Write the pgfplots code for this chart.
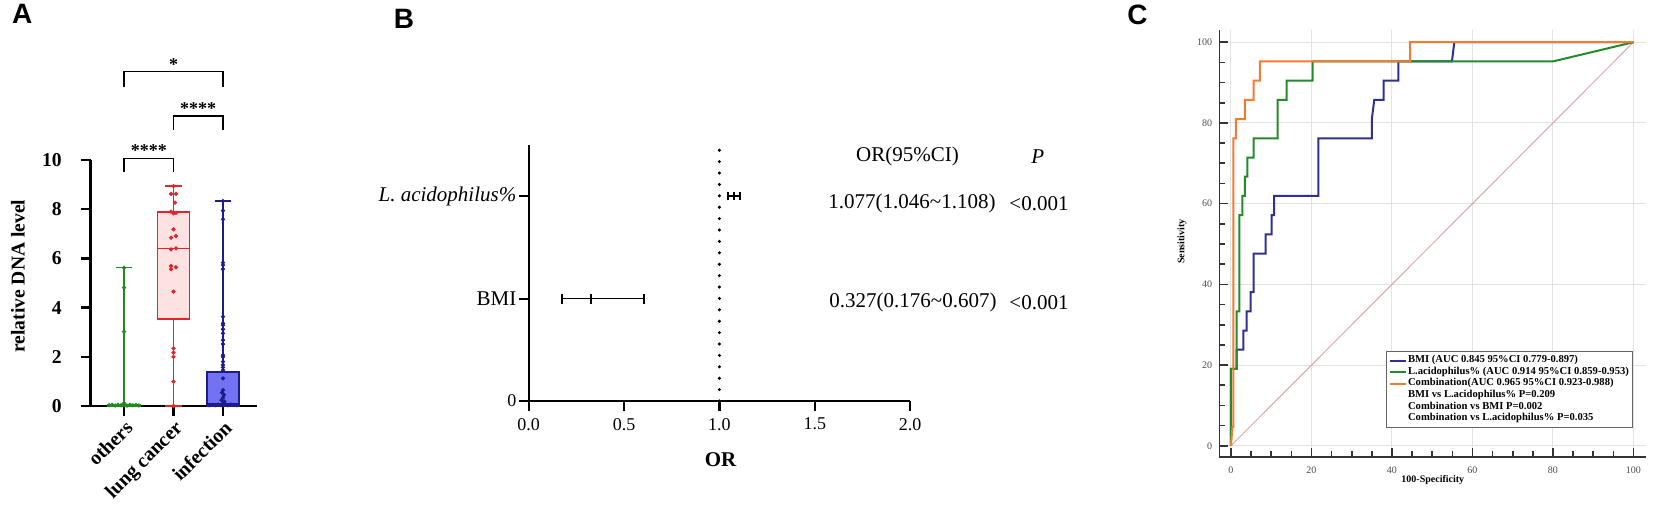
\documentclass[border=0pt]{standalone}
\usepackage{fontspec}
\setmainfont{Liberation Serif}
\newfontfamily\panelfont{Liberation Sans}
\usepackage{pgfplots}
\pgfplotsset{compat=1.18}
\usepgfplotslibrary{statistics}
\definecolor{grnA}{HTML}{1E8C1E}
\definecolor{redA}{HTML}{E8222A}
\definecolor{pinkA}{HTML}{FDE2E2}
\definecolor{navyA}{HTML}{1C1C8A}
\definecolor{blueA}{HTML}{7272F2}
\definecolor{bmiCol}{HTML}{2E3192}
\definecolor{laCol}{HTML}{238B2A}
\definecolor{comCol}{HTML}{F47B30}
\definecolor{diagCol}{HTML}{D9A8A8}

\begin{document}
\begin{tikzpicture}
\useasboundingbox (0pt,0pt) rectangle (827pt,-257.5pt);

% panel letters
\node[font=\panelfont\bfseries\fontsize{14}{14}\selectfont] at (11.15pt,-7pt) {A};
\node[font=\panelfont\bfseries\fontsize{14}{14}\selectfont] at (202pt,-9.5pt) {B};
\node[font=\panelfont\bfseries\fontsize{14}{14}\selectfont] at (568.7pt,-7.5pt) {C};

% ---------------- A: box plots ----------------
\begin{axis}[
  at={(45.35pt,-203pt)}, anchor=south west,
  scale only axis, width=83.15pt, height=123pt,
  xmin=0.327, xmax=3.687, ymin=0, ymax=10,
  boxplot/draw direction=y,
  axis x line*=bottom, axis y line*=left,
  axis line style={line width=1.2pt},
  tick style={line width=1.2pt, black},
  tick align=outside, major tick length=5pt,
  xtick={1,2,3}, xticklabels={others, lung cancer, infection},
  ytick={0,2,...,10},
  /pgf/number format/assume math mode=true,
  yticklabel style={font=\bfseries\fontsize{9.8}{10}\selectfont, xshift=-6pt},
  xticklabel style={font=\bfseries\fontsize{10}{10}\selectfont, rotate=45, anchor=north east, inner sep=1pt},
  ylabel={relative DNA level},
  ylabel style={font=\bfseries\fontsize{9.8}{10}\selectfont, at={(axis description cs:-0.437,0.528)}, anchor=center},
  clip=false,
]
\addplot[boxplot prepared={draw position=1, lower whisker=0, lower quartile=0, median=0.03, upper quartile=0.06, upper whisker=5.62, box extend=0.653, whisker extend=0.34}, draw=grnA, fill=grnA!30, line width=0.7pt] coordinates {};
\addplot[boxplot prepared={draw position=2, lower whisker=0, lower quartile=3.54, median=6.41, upper quartile=7.89, upper whisker=8.94, box extend=0.653, whisker extend=0.34}, draw=redA, fill=pinkA, line width=0.7pt] coordinates {};
\addplot[boxplot prepared={draw position=3, lower whisker=0, lower quartile=0, median=0.1, upper quartile=1.38, upper whisker=8.33, box extend=0.653, whisker extend=0.34}, draw=navyA, fill=blueA, line width=0.7pt] coordinates {};

\addplot[only marks, mark=*, mark size=0.85pt, grnA] coordinates {
(0.70,0.03)(0.76,0.05)(0.82,0.02)(0.88,0.05)(0.94,0.03)(1.00,0.06)(1.06,0.02)
(1.12,0.05)(1.18,0.03)(1.24,0.04)(1.30,0.02)(1,0.12)(1,3.02)(1,4.81)(1,5.62)};
\addplot[only marks, mark=*, mark size=0.85pt, redA] coordinates {
(2,8.94)(1.95,8.62)(2.05,8.62)(2.03,8.27)(1.95,7.9)(2.05,7.85)(2,7.83)(2,7.18)
(2.05,6.91)(1.95,6.84)(2.05,6.41)(1.95,6.37)(1.95,5.69)(2.05,5.64)(1.95,5.56)
(2,4.65)(2,2.34)(2,2.17)(2,2.0)(2,0.99)(2,0)};
\addplot[only marks, mark=*, mark size=0.85pt, navyA] coordinates {
(3,8.33)(3,7.94)(3,7.59)(3,5.83)(3,5.73)(3,5.56)(3,3.63)(3,3.36)(3,3.29)(3,3.12)
(3,2.95)(3,2.68)(3,2.52)(3,2.07)(3,2.0)(3,1.8)(3,1.67)(3,1.57)(3,1.46)(3,1.12)
(3,0.65)(2.98,0.54)(3.02,0.45)(3,0.34)(2.97,0.24)(3.03,0.18)(3,0.11)
(2.72,0.03)(2.78,0.05)(2.84,0.03)(2.9,0.06)(2.96,0.04)(3.04,0.05)(3.1,0.03)
(3.16,0.06)(3.22,0.04)(3.28,0.03)};

% significance brackets
\addplot[black, line width=0.7pt] coordinates {(1,9.52)(1,10.07)(2,10.07)(2,9.52)};
\addplot[black, line width=0.7pt] coordinates {(2,11.22)(2,11.79)(3,11.79)(3,11.22)};
\addplot[black, line width=0.7pt] coordinates {(1,12.96)(1,13.59)(3,13.59)(3,12.96)};
\node[font=\bfseries\fontsize{9}{9}\selectfont, anchor=base, inner sep=0pt, yshift=0.8pt] at (axis cs:1.5,10.07) {****};
\node[font=\bfseries\fontsize{9}{9}\selectfont, anchor=base, inner sep=0pt, yshift=0.8pt] at (axis cs:2.5,11.79) {****};
\node[font=\bfseries\fontsize{9}{9}\selectfont, anchor=base, inner sep=0pt, yshift=0.8pt] at (axis cs:2,13.59) {*};
\end{axis}

% ---------------- B: forest plot ----------------
\begin{axis}[
  at={(264.35pt,-200.5pt)}, anchor=south west,
  scale only axis, width=190.7pt, height=127.9pt,
  xmin=0, xmax=2, ymin=0, ymax=2.5,
  axis x line*=bottom, axis y line*=left,
  axis line style={line width=1.1pt},
  tick style={line width=1.1pt, black},
  tick align=outside, major tick length=5pt,
  xtick={0,0.5,1,1.5,2}, xticklabels={0.0,0.5,1.0,1.5,2.0},
  ytick={0,1,2}, yticklabels={{\fontsize{9}{9}\selectfont 0}, BMI, \textit{L. acidophilus\%}},
  xticklabel style={font=\fontsize{9}{9}\selectfont},
  yticklabel style={font=\fontsize{10.5}{11}\selectfont, inner sep=1pt},
  xlabel={OR},
  xlabel style={font=\bfseries\fontsize{10.5}{11}\selectfont, at={(axis description cs:0.503,-0.231)}, anchor=center},
  clip=false,
]
\addplot[black, line width=1.7pt, line cap=round, dash pattern=on 0pt off 5.7pt] coordinates {(1,0)(1,2.48)};
\addplot[black, only marks, mark=|, mark size=2.5pt, mark options={line width=1pt},
  error bars/.cd, x dir=both, x explicit, error mark=|,
  error mark options={mark size=2.5pt, line width=1pt, black},
  error bar style={line width=0.6pt, black}]
  coordinates {(0.327,1) += (0.280,0) -= (0.151,0)};
\addplot[black, only marks, mark=|, mark size=2pt, mark options={line width=0.9pt},
  error bars/.cd, x dir=both, x explicit, error mark=|,
  error mark options={mark size=2pt, line width=1pt, black},
  error bar style={line width=1pt, black}]
  coordinates {(1.077,2) += (0.031,0) -= (0.031,0)};
\node[font=\fontsize{10.5}{11}\selectfont] at (axis cs:1.986,2.39) {OR(95\%CI)};
\node[font=\fontsize{10.5}{11}\selectfont] at (axis cs:2.67,2.39) {\textit{P}};
\node[font=\fontsize{10.5}{11}\selectfont] at (axis cs:2.01,1.93) {1.077(1.046\textasciitilde1.108)};
\node[font=\fontsize{10.5}{11}\selectfont] at (axis cs:2.676,1.93) {\textless0.001};
\node[font=\fontsize{10.5}{11}\selectfont] at (axis cs:2.015,0.96) {0.327(0.176\textasciitilde0.607)};
\node[font=\fontsize{10.5}{11}\selectfont] at (axis cs:2.676,0.96) {\textless0.001};
\end{axis}

% ---------------- C: ROC curves ----------------
\begin{axis}[
  at={(609.65pt,-228.35pt)}, anchor=south west,
  scale only axis, width=213.1pt, height=213.3pt,
  xmin=-2.9, xmax=103, ymin=-2.7, ymax=103,
  axis x line*=bottom, axis y line*=left,
  axis line style={line width=0.8pt, black!80},
  tick style={line width=0.8pt, black!80},
  tick align=inside, major tick length=4.5pt, minor tick length=3pt,
  xtick={0,20,...,100}, ytick={0,20,...,100},
  minor xtick={5,10,15,25,30,35,45,50,55,65,70,75,85,90,95},
  minor ytick={5,10,15,25,30,35,45,50,55,65,70,75,85,90,95},
  grid=major, major grid style={gray!22, line width=0.5pt},
  /pgf/number format/assume math mode=true,
  ticklabel style={font=\fontsize{5}{5}\selectfont, text=black!70},
  xticklabel style={yshift=-1.5pt},
  xlabel={100-Specificity}, ylabel={Sensitivity},
  xlabel style={font=\bfseries\fontsize{5}{5}\selectfont, at={(axis description cs:0.501,-0.0546)}, anchor=center},
  ylabel style={font=\bfseries\fontsize{5}{5}\selectfont, at={(axis description cs:-0.0875,0.504)}, anchor=center},
  legend image code/.code={\draw[#1] (0pt,0pt) -- (7.8pt,0pt);},
  legend cell align=left,
  legend style={at={(axis cs:100,23.5)}, anchor=north east, draw=black!60, line width=0.5pt,
    font=\bfseries\fontsize{5.3}{5.3}\selectfont, row sep=-0.4pt, inner sep=1.5pt,
    nodes={inner sep=0.5pt}},
  clip=false,
]
\addplot[diagCol, line width=0.5pt, forget plot] coordinates {(0,0)(100,100)};
\addplot[bmiCol, line width=1pt] coordinates {
(0,0)(0,19.05)(1.4,19.05)(1.4,23.81)(3.06,23.81)(3.06,28.57)(3.9,28.57)(3.9,33.33)
(4.9,33.33)(4.9,38.1)(5.6,38.1)(5.6,47.62)(8.6,47.62)(8.6,52.38)(10.1,52.38)
(10.1,57.14)(10.7,57.14)(10.7,61.9)(21.7,61.9)(21.7,76.19)(35.0,76.19)(35.0,80.95)
(35.6,85.71)(37.9,85.71)(37.9,90.48)(41.6,90.48)(41.6,95.24)(54.9,95.24)(55.5,100)(100,100)};
\addlegendentry{BMI (AUC 0.845 95\%CI 0.779-0.897)}
\addplot[laCol, line width=1pt] coordinates {
(0,0)(0,19.05)(1.4,19.05)(1.4,33.33)(2.1,33.33)(2.1,57.14)(2.8,57.14)(2.8,61.9)
(3.48,61.9)(3.48,66.67)(4.05,66.67)(4.05,71.43)(5.64,71.43)(5.64,76.19)(11.6,76.19)
(11.6,85.71)(13.8,85.71)(13.8,90.48)(20.3,90.48)(20.3,95.24)(80,95.24)(100,100)};
\addlegendentry{L.acidophilus\% (AUC 0.914 95\%CI 0.859-0.953)}
\addplot[comCol, line width=1pt] coordinates {
(0,0)(0.4,4.76)(0.6,4.76)(0.6,76.19)(1.24,76.19)(1.24,80.95)(3.48,80.95)(3.48,85.71)
(5.64,85.71)(5.64,90.48)(7.2,90.48)(7.2,95.24)(44.5,95.24)(44.5,100)(100,100)};
\addlegendentry{Combination(AUC 0.965 95\%CI 0.923-0.988)}
\addlegendimage{empty legend}
\addlegendentry{BMI vs L.acidophilus\% P=0.209}
\addlegendimage{empty legend}
\addlegendentry{Combination vs BMI P=0.002}
\addlegendimage{empty legend}
\addlegendentry{Combination vs L.acidophilus\% P=0.035}
\end{axis}
\end{tikzpicture}
\end{document}
